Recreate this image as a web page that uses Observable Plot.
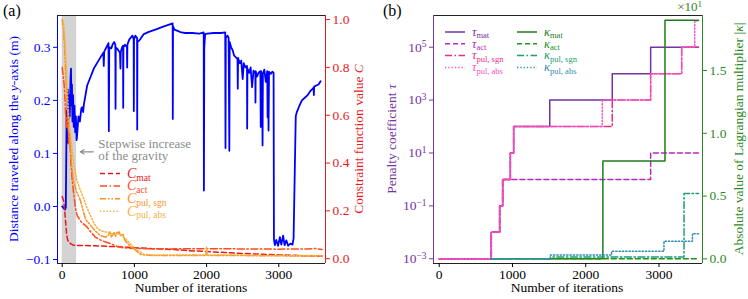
<!DOCTYPE html>
<html><head><meta charset="utf-8">
<script src="https://cdn.jsdelivr.net/npm/d3@7"></script>
<script src="https://cdn.jsdelivr.net/npm/@observablehq/plot@0.6"></script>
<style>
body{margin:0;background:#fff;}
#root{position:relative;width:748px;height:299px;font-family:"Liberation Serif","Times New Roman",serif;}
#root svg{position:absolute;top:0;}
</style></head><body><div id="root"></div>
<script>
// ---------- Panel (a) data ----------
const iterTicks = [0, 1000, 2000, 3000];
const gravityBand = [0, 200];
// distance travelled along y (m) : [iteration, value]
const distanceY = [[0,0.0],[20,-0.003],[40,-0.006],[50,-0.002],[56,0.09],[62,0.18],[70,0.12],[78,0.22],[85,0.15],[95,0.21],[105,0.17],[115,0.24],[122,0.26],[128,0.19],[135,0.23],[142,0.16],[150,0.21],[160,0.15],[170,0.19],[180,0.14],[190,0.17],[200,0.125],[208,0.137],[225,0.17],[245,0.16],[265,0.185],[277,0.187],[290,0.178],[300,0.192],[346,0.228],[438,0.26],[530,0.281],[570,0.29],[576,0.265],[582,0.292],[620,0.302],[641,0.308],[646,0.142],[652,0.3],[680,0.298],[700,0.306],[720,0.31],[736,0.305],[739,0.184],[742,0.3],[770,0.296],[800,0.29],[807,0.26],[812,0.292],[830,0.3],[843,0.303],[845,0.186],[848,0.3],[870,0.305],[897,0.3],[900,0.262],[903,0.305],[930,0.315],[960,0.32],[975,0.322],[990,0.315],[992,0.18],[995,0.315],[1015,0.322],[1025,0.32],[1037,0.318],[1039,0.145],[1042,0.31],[1060,0.312],[1085,0.316],[1130,0.325],[1200,0.329],[1300,0.334],[1400,0.339],[1530,0.345],[1532,0.165],[1535,0.34],[1545,0.336],[1560,0.333],[1600,0.331],[1650,0.328],[1708,0.327],[1800,0.327],[1900,0.326],[1960,0.328],[1963,0.03],[1968,0.3],[1980,0.325],[2008,0.326],[2100,0.327],[2200,0.327],[2258,0.328],[2262,0.11],[2266,0.318],[2290,0.322],[2305,0.318],[2315,0.105],[2320,0.31],[2340,0.3],[2360,0.295],[2380,0.285],[2400,0.282],[2428,0.278],[2432,0.222],[2436,0.28],[2460,0.27],[2480,0.275],[2500,0.24],[2515,0.27],[2540,0.262],[2560,0.265],[2562,0.147],[2566,0.26],[2590,0.252],[2610,0.262],[2630,0.225],[2650,0.256],[2675,0.25],[2677,0.196],[2680,0.255],[2700,0.245],[2720,0.252],[2745,0.255],[2750,0.15],[2755,0.255],[2770,0.24],[2775,0.115],[2780,0.25],[2800,0.258],[2820,0.235],[2840,0.255],[2845,0.168],[2850,0.252],[2858,0.143],[2865,0.254],[2890,0.25],[2910,0.254],[2928,0.252],[2933,-0.062],[2945,-0.073],[2965,-0.063],[2990,-0.074],[3015,-0.058],[3035,-0.072],[3060,-0.055],[3080,-0.073],[3105,-0.064],[3130,-0.074],[3160,-0.07],[3190,-0.072],[3205,-0.06],[3235,0.17],[3250,0.178],[3280,0.188],[3320,0.2],[3360,0.205],[3400,0.21],[3440,0.218],[3470,0.222],[3482,0.224],[3486,0.21],[3490,0.226],[3520,0.228],[3550,0.23],[3579,0.236]];
// constraint function values : [iteration, value]
const cMat = [[0,0.26],[22,0.24],[46,0.16],[62,0.1],[78,0.076],[120,0.062],[161,0.056],[300,0.055],[438,0.054],[700,0.051],[900,0.048],[1000,0.046],[1250,0.042],[1500,0.039],[1750,0.034],[2000,0.03],[2250,0.026],[2500,0.022],[2750,0.019],[3000,0.016],[3300,0.013],[3600,0.011]];
const cAct = [[0,0.8],[15,0.76],[30,0.72],[45,0.62],[60,0.55],[75,0.6],[90,0.48],[105,0.52],[120,0.4],[138,0.33],[160,0.27],[185,0.21],[208,0.18],[260,0.155],[346,0.132],[400,0.11],[461,0.09],[550,0.075],[669,0.063],[760,0.052],[853,0.045],[1000,0.043],[1500,0.041],[2000,0.042],[2500,0.041],[3000,0.04],[3400,0.041],[3500,0.043],[3600,0.039]];
const cPulSgn = [[0,1.0],[15,0.97],[30,0.9],[45,0.8],[60,0.7],[75,0.62],[90,0.55],[105,0.5],[120,0.44],[138,0.37],[160,0.32],[200,0.28],[253,0.243],[323,0.165],[392,0.14],[461,0.115],[530,0.097],[600,0.09],[640,0.098],[660,0.112],[680,0.092],[700,0.1],[720,0.112],[740,0.094],[760,0.11],[790,0.112],[810,0.095],[840,0.105],[870,0.075],[950,0.05],[1000,0.04],[1085,0.018],[1200,0.014],[1500,0.013],[1990,0.014],[2000,0.032],[2010,0.014],[2500,0.013],[3000,0.012],[3600,0.011]];
const cPulAbs = [[0,0.99],[15,0.99],[30,0.95],[45,0.88],[60,0.78],[75,0.68],[90,0.6],[105,0.55],[120,0.5],[138,0.45],[160,0.4],[200,0.33],[254,0.285],[300,0.25],[346,0.21],[392,0.18],[438,0.15],[485,0.128],[530,0.118],[600,0.112],[650,0.11],[715,0.1],[760,0.105],[807,0.1],[850,0.09],[900,0.076],[950,0.06],[1000,0.045],[1040,0.035],[1085,0.028],[1130,0.018],[1300,0.015],[1600,0.016],[1990,0.016],[2000,0.05],[2010,0.016],[2500,0.015],[3000,0.013],[3600,0.013]];
const distTicks = [-0.1, 0.0, 0.1, 0.2, 0.3];
const cTicks = [0, 0.2, 0.4, 0.6, 0.8, 1.0];
const gravityNote = {text: "Stepwise increase\nof the gravity", tx: 500, ty: 0.106, ax1: 430, ax2: 250, ay: 0.103};

// ---------- Panel (b) data ----------
// step series: [iteration, value]
const tauMat = [[0,1e-3],[711,1e-2],[825,1e-1],[866,1e0],[971,1e1],[1016,1e2],[1509,1e3],[2362,1e4],[2886,1e5],[3540,1e5]];
const tauAct = [[0,1e-3],[711,1e-2],[825,1e-1],[866,1e0],[2886,1e1],[3540,1e1]];
const tauPulSgn = [[0,1e-3],[711,1e-2],[825,1e-1],[866,1e0],[971,1e1],[1016,1e2],[2362,1e3],[2886,1e4],[3310,1e5],[3540,1e5]];
const tauPulAbs = [[0,1e-3],[711,1e-2],[825,1e-1],[866,1e0],[971,1e1],[1016,1e2],[2226,1e3],[2886,1e4],[3310,1e5],[3488,1e6],[3540,1e6]];
const kappaMat = [[711,0],[2234,7.8],[3082,19.0],[3540,19.0]];
const kappaAct = [[711,0],[3540,0]];
const kappaPulSgn = [[711,0],[1518,0.15],[3342,5.2],[3540,5.2]];
const kappaPulAbs = [[711,0],[1518,0.3],[2353,0.6],[3068,1.4],[3457,2.0],[3540,2.0]];
const tauTicks = [1e-3, 1e-1, 1e1, 1e3, 1e5];
const kappaTicks = [0, 5, 10, 15];

// ---------- styles ----------
const BLUE = "#0000ff", RED = "#e8191e";
const C_COL = {mat: "#e8191e", act: "#ff4d1a", sgn: "#ff8f1f", abs: "#f2b33d"};
const PURPLE = "#7433a3";
const T_COL = {mat: "#7433a3", act: "#b02cb8", sgn: "#e52e8c", abs: "#ff4fc6"};
const GREEN = "#2a8a22";
const K_COL = {mat: "#1f7d1a", act: "#22921e", sgn: "#1aa070", abs: "#2c8eb2"};
const DASH = {solid: null, dashed: "5,3", dashdot: "7,2.5,1.5,2.5", dashdotdot: "6,2,1.5,2,1.5,2", dotted: "1.3,2"};

const W = 374, H = 299;
const style = {fontFamily: '"Liberation Serif","Times New Roman",serif', fontSize: "13.5px", background: "transparent", overflow: "visible"};
const xDomA = [-65, 3647], yDomA = [-0.1075, 0.36], cDom = [-0.02, 1.017];
const xDomB = [-78, 3594], tauDom = [10 ** -3.178, 10 ** 6.198], kDom = [-0.37, 19.38];
const mA = {width: W, height: H, marginTop: 15, marginBottom: 36, marginLeft: 57, marginRight: 49, style};
const mB = {width: W, height: H, marginTop: 15, marginBottom: 36, marginLeft: 59, marginRight: 46, style};
const fx = d => d[0], fy = d => d[1];
const ln = (data, color, dash, curve, w) => Plot.line(data, {x: fx, y: fy, stroke: color, strokeWidth: w || 1.5, strokeDasharray: dash, curve: curve || "linear"});

const root = document.getElementById("root");

// Panel (a) left axes
const a1 = Plot.plot({...mA,
  x: {domain: xDomA}, y: {domain: yDomA},
  marks: [
    Plot.rect([gravityBand], {x1: d => d[0], x2: d => d[1], fill: "#d3d3d3"}),
    ln(distanceY, BLUE, null, "linear", 1.8),
    Plot.arrow([gravityNote], {x1: "ax1", y1: "ay", x2: "ax2", y2: "ay", stroke: "#8c8c8c", strokeWidth: 1.2, headLength: 7}),
    Plot.text([gravityNote], {x: "tx", y: "ty", text: "text", textAnchor: "start", lineAnchor: "middle", lineHeight: 0.92, fill: "#8c8c8c", fontSize: 13}),
    Plot.ruleY([yDomA[1]], {stroke: "#222"}),
    Plot.ruleY([yDomA[0]], {stroke: "#222"}),
    Plot.ruleX([xDomA[0]], {stroke: BLUE}),
    Plot.axisX({ticks: iterTicks, tickSize: 4, tickPadding: 2, label: null, tickFormat: d => String(d)}),
    Plot.axisY({ticks: distTicks, tickSize: 4, tickPadding: 3, label: null, color: BLUE, tickFormat: d3.format(".1f")})
  ]});
// Panel (a) twin axes
const a2 = Plot.plot({...mA,
  x: {domain: xDomA, axis: null}, y: {domain: cDom},
  marks: [
    ln(cMat, C_COL.mat, DASH.dashed),
    ln(cAct, C_COL.act, DASH.dashdot),
    ln(cPulSgn, C_COL.sgn, DASH.dashdotdot),
    ln(cPulAbs, C_COL.abs, DASH.dotted),
    Plot.ruleX([xDomA[1]], {stroke: RED}),
    Plot.axisY({anchor: "right", ticks: cTicks, tickSize: 4, tickPadding: 3, label: null, color: RED, tickFormat: d3.format(".1f")})
  ]});
// Panel (b) left axes
const b1 = Plot.plot({...mB,
  x: {domain: xDomB}, y: {type: "log", domain: tauDom},
  marks: [
    ln(tauMat, T_COL.mat, DASH.solid, "step-after"),
    ln(tauAct, T_COL.act, DASH.dashed, "step-after"),
    ln(tauPulSgn, T_COL.sgn, DASH.dashdot, "step-after"),
    ln(tauPulAbs, T_COL.abs, DASH.dotted, "step-after"),
    Plot.ruleY([tauDom[1]], {stroke: "#222"}),
    Plot.ruleY([tauDom[0]], {stroke: "#222"}),
    Plot.ruleX([xDomB[0]], {stroke: PURPLE}),
    Plot.axisX({ticks: iterTicks, tickSize: 4, tickPadding: 2, label: null, tickFormat: d => String(d)}),
    Plot.axisY({ticks: tauTicks, tickSize: 4, tickPadding: 3, label: null, color: PURPLE, tickFormat: d => "10^" + String(Math.round(Math.log10(d))).replace("-", "\u2212")})
  ]});
// Panel (b) twin axes
const b2 = Plot.plot({...mB,
  x: {domain: xDomB, axis: null}, y: {domain: kDom},
  marks: [
    ln(kappaMat, K_COL.mat, DASH.solid, "step-after"),
    ln(kappaAct, K_COL.act, DASH.dashed, "step-after"),
    ln(kappaPulSgn, K_COL.sgn, DASH.dashdot, "step-after"),
    ln(kappaPulAbs, K_COL.abs, DASH.dotted, "step-after"),
    Plot.ruleX([xDomB[1]], {stroke: GREEN}),
    Plot.axisY({anchor: "right", ticks: kappaTicks, tickSize: 4, tickPadding: 3, label: null, color: GREEN, tickFormat: d => (d / 10).toFixed(1)})
  ]});

// superscripts on log tick labels
d3.select(b1).selectAll('g[aria-label="y-axis tick label"] text').each(function () {
  const t = this.textContent, i = t.indexOf("^");
  if (i < 0) return;
  const s = d3.select(this); s.text(null);
  s.append("tspan").text(t.slice(0, i));
  s.append("tspan").attr("dy", "-0.45em").attr("font-size", "9.5px").text(t.slice(i + 1));
});

for (const [svg, left] of [[a1, 0], [a2, 0], [b1, 374], [b2, 374]]) {
  svg.style.left = left + "px";
  root.appendChild(svg);
}

// ---------- text overlay: titles, legends ----------
const ov = d3.select(root).append("svg").attr("width", 748).attr("height", 299)
  .style("left", "0px").style("pointer-events", "none")
  .attr("font-family", '"Liberation Serif","Times New Roman",serif');

function richText(g, x, y, parts, opts) {
  const t = g.append("text").attr("x", x).attr("y", y).attr("fill", opts.fill)
    .attr("font-size", opts.size).attr("text-anchor", opts.anchor || "start");
  if (opts.rotate) t.attr("transform", `rotate(-90 ${x} ${y})`);
  if (opts.baseline) t.attr("dominant-baseline", opts.baseline);
  for (const p of parts) {
    const ts = t.append("tspan").text(p.t);
    if (p.i) ts.attr("font-style", "italic");
    if (p.sub) ts.attr("font-size", p.sub).attr("dy", p.dy);
    if (p.dy && !p.sub) ts.attr("dy", p.dy);
  }
  return t;
}
// panel letters
richText(ov, 3, 16, [{t: "(a)"}], {fill: "#000", size: 16});
richText(ov, 383, 16, [{t: "(b)"}], {fill: "#000", size: 16});
// x titles
richText(ov, 191, 292, [{t: "Number of iterations"}], {fill: "#000", size: 13.5, anchor: "middle"});
richText(ov, 567, 292, [{t: "Number of iterations"}], {fill: "#000", size: 13.5, anchor: "middle"});
// y titles
richText(ov, 13, 139, [{t: "Distance traveled along the "}, {t: "y", i: true}, {t: "-axis (m)"}], {fill: BLUE, size: 13.5, anchor: "middle", rotate: true, baseline: "central"});
richText(ov, 358, 139, [{t: "Constraint function value "}, {t: "C", i: true}], {fill: RED, size: 13.5, anchor: "middle", rotate: true, baseline: "central"});
richText(ov, 391, 139, [{t: "Penalty coefficient "}, {t: "\u03c4", i: true}], {fill: PURPLE, size: 13.5, anchor: "middle", rotate: true, baseline: "central"});
richText(ov, 738, 139, [{t: "Absolute value of Lagrangian multiplier |"}, {t: "\u03ba", i: true}, {t: "|"}], {fill: GREEN, size: 13.5, anchor: "middle", rotate: true, baseline: "central"});
// offset text
richText(ov, 702, 11, [{t: "\u00d710"}, {t: "1", sub: "9px", dy: "-0.5em"}], {fill: GREEN, size: 13, anchor: "end"});

// legends
function legendRow(x, y, color, dash, sym, sub, fsize, subsize, len) {
  ov.append("line").attr("x1", x).attr("x2", x + len).attr("y1", y).attr("y2", y)
    .attr("stroke", color).attr("stroke-width", 1.5).attr("stroke-dasharray", dash);
  const t = ov.append("text").attr("x", x + len + 7).attr("y", y + fsize * 0.3).attr("fill", color).attr("font-size", fsize);
  t.append("tspan").attr("font-style", "italic").text(sym);
  t.append("tspan").attr("font-size", subsize).attr("dy", "0.3em").text(sub);
}
const legKeys = ["mat", "act", "sgn", "abs"];
const legA = [["mat", DASH.dashed], ["act", DASH.dashdot], ["pul, sgn", DASH.dashdotdot], ["pul, abs", DASH.dotted]];
legA.forEach(([sub, dash], i) => legendRow(100, 173.5 + i * 12.6, C_COL[legKeys[i]], dash, "C", sub, 14, 9.5, 20));
const legB = [["mat", DASH.solid], ["act", DASH.dashed], ["pul, sgn", DASH.dashdot], ["pul, abs", DASH.dotted]];
legB.forEach(([sub, dash], i) => {
  legendRow(445, 32 + i * 11.8, T_COL[legKeys[i]], dash, "\u03c4", sub, 12.5, 8.5, 20);
  legendRow(517, 32 + i * 11.8, K_COL[legKeys[i]], dash, "\u03ba", sub, 12.5, 8.5, 20);
});
</script></body></html>
